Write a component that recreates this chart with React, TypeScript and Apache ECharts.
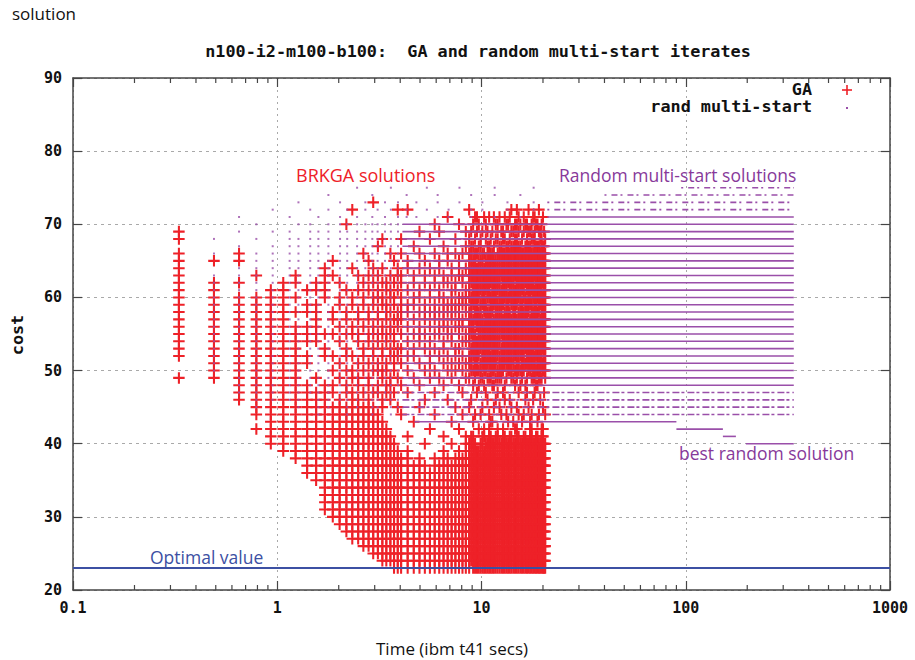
import React, { useEffect, useRef } from "react";
import * as echarts from "echarts";

// ---------- data ----------
const xTickLabels = ["0.1", "1", "10", "100", "1000"];
const xMinorTicks = [0.2, 0.3, 0.4, 0.5, 0.6, 0.7, 0.8, 0.9, 2, 3, 4, 5, 6, 7, 8, 9, 20, 30, 40, 50, 60, 70, 80, 90, 200, 300, 400, 500, 600, 700, 800, 900];
const yMin = 20;
const yMax = 90;
const yStep = 10;
const optimalCost = 23;

// GA iterates: one column per generation time, costs given as integer lists / ranges
const gaTimes = [
  0.33, 0.49, 0.65, 0.79, 0.93, 1.07, 1.23, 1.4, 1.55, 1.71,
  1.87, 2.02, 2.18, 2.33, 2.49, 2.64, 2.8, 2.95, 3.11, 3.27, 3.42, 3.58, 3.73, 3.89,
  4.04, 4.35, 4.66, 4.97, 5.28, 5.59, 5.9, 6.21, 6.52, 6.83, 7.14, 7.45, 7.76, 8.07, 8.38,
  8.7, 9.1, 9.5, 9.9, 10.3, 10.7, 11.1, 11.5, 12.0, 12.5, 13.0, 13.5, 14.0, 14.6, 15.2, 15.8, 16.4, 17.0, 17.6, 18.2, 18.8, 19.4, 20.0, 20.5,
];
const gaCosts = [
  "69,68,66-52,49",
  "65,62-49",
  "66,65,62,60-46",
  "63,60-44,42",
  "61-40",
  "62-39",
  "63,62,60,58,56-38",
  "61,59,58,56,55,54,52,51,48-36",
  "62,61,59-54,49,47-35",
  "64-60,55,53,52,48-31",
  "65,63,58,57,55,52,50,48,47,45-30",
  "62,60,59,56,54,51,49,46-29",
  "70,61,58,57,55,53,52,50,48,47,45-28",
  "72,64,60,59,56,55,52,50,49,47-27",
  "63,61,58,57,55,54,51,49,48,46-27",
  "66,62,60,59,56,53,52,50,47,45-26",
  "65,63,61,58,57,55,54,51,49,48,46-26",
  "73,64,62,60,59,56,55,53,52,50,47,45-25",
  "67,63,61,60,58,57,55,54,51,50,48,47,44-25",
  "68,64,62,60,59,56,55,53,52,50,49,46,45,43-24",
  "62,61,59,58,57,55,54,51,50,48,47,42-24",
  "66,63,61,60,58,56,55,53,52,49,48,46,41-24",
  "65,62,60,59,57,55,54,52,51,50,47,40-23",
  "72,64,63,61,58,57,56,53,52,49,45,39-23",
  "68,66,63,62,60-57,55,53,51,48,44,38-23",
  "72,65,64,61,59,58,56,54,52,50,47,41,39-23",
  "67,63,62,60,59,57,55,53,52,49,43,37-23",
  "69,66,64,61,60,58,56,55,54,51,48,45,38-23",
  "65,63,62,59,58,57,55,53,50,46,40,37-23",
  "68,64,61,60,58,56,54,52,51,49,42,36-23",
  "70,66,63,62,59-57,55,53,50,47,44,38-23",
  "69,65,64,61,60,58,56,55,52,49,37-23",
  "67,63,62,60-56,54,53,51,48,41,39-23",
  "71,66,65,62,59,58,56,55,52,50,46,38-23",
  "64,63,61,60-57,55,54,51,49,43,40,37-23",
  "68,66,62,61,59,58,56,53,52,50,45,38-23",
  "70,65,64,63,60-55,53,51,48,42,39-23",
  "66,63,62,60,59,57,56,54,52,50,47,44,38-23",
  "69,67,64,61-58,55,54,51,49,41,40-23",
  "72,68,66-60,58-54,52,51,49,45,40-23",
  "70,67,65-59,57-52,50,48,43,41-23",
  "71,69,66,64-56,54-50,47,39-23",
  "68,67,65-61,59-53,51-49,44,40-23",
  "71,66,64-58,56-50,48,42,41,39-23",
  "69,67,65-60,58-51,49,46,40-23",
  "68,66-62,60-54,52-49,43,41-23",
  "71,67,65-59,57-50,48,45,40-23",
  "70,68,66-61,59-52,50,49,47,42,41-23",
  "69,67-63,61-55,53-49,44,40-23",
  "71,68,66-60,58-51,48,46,41-23",
  "70,67-62,60-55,54-50,43,40-23",
  "72,69,67,66-59,57-49,45,41-23",
  "70,68-63,61-52,50,48,42,40-23",
  "71,69,67-60,58-50,47,44,41-23",
  "68,66-61,59-52,51-49,43,40-23",
  "70,67-62,60-53,51,48,46,41-23",
  "72,69,67-58,56-50,45,40-23",
  "70,68,66-61,59-51,49,44,42,41-23",
  "71,69-63,61-54,52-49,47,40-23",
  "70,67-60,58-50,48,43,41-23",
  "69,68,66-59,57-52,51-49,46,40-23",
  "71,67-62,60-53,51,50,45,42,41-23",
  "68,66-58,57-49,44,40-23",
];
// GA generations in between (the late, densely packed part of the run)
const gaLateTimes = [8.9, 9.3, 9.7, 10.1, 10.5, 10.9, 11.3, 11.75, 12.25, 12.75, 13.25, 13.75, 14.3, 14.9, 15.5, 16.1, 16.7, 17.3, 17.9, 18.5, 19.1, 19.7, 20.25];
const gaLateCosts = [
  "69,67-62,60-55,53-50,46,41-24",
  "71,68,66-57,55-49,44,40-23",
  "70,67,65-60,58-52,50,48,42,39-23",
  "69,66-59,57-51,49,45,41-23",
  "70,68,65-61,59-50,47,40-23",
  "71,67-60,58-52,51,49,44,42,41-23",
  "69,66-58,56-50,48,43,40-23",
  "70,68,65-60,59-51,49,46,41-23",
  "71,67-61,60-54,52-49,45,40-23",
  "69,68,66-59,57-50,47,42,41-23",
  "70,67-63,62-52,51,49,44,40-23",
  "71,68,66-60,58-50,46,41-23",
  "69,67-61,60-51,49,43,40-23",
  "72,70,68-59,57-49,45,42,41-23",
  "70,67-62,61-52,50,48,40-23",
  "71,69,66-60,58-50,44,41-23",
  "70,68-61,59-51,49,47,40-23",
  "69,67-59,57-50,43,42,41-23",
  "71,68,66-60,58-49,46,40-23",
  "70,67-62,61-52,50,48,41-23",
  "72,69,67-58,56-49,44,40-23",
  "70,68-61,60-51,49,42,41-23",
  "69,67-59,58-50,47,40-23",
];

// random multi-start: early, separately visible iterate columns
const rndDotTimes = [0.49, 0.65, 0.79, 0.95, 1.15, 1.27, 1.45, 1.59, 1.78, 2.03, 2.2, 2.46, 2.7, 2.92, 3.1, 3.37, 3.6, 3.9, 4.3, 4.8, 5.4, 6.1, 6.9, 7.8, 8.9, 10.1, 11.6, 13.4, 15.5, 18.0];
const rndDotCosts = [
  "68,66,63-50",
  "71,69,67,64-47",
  "70,68,66-45",
  "72,69,67-46",
  "71,69-46",
  "73,70,68-45",
  "72,70-47",
  "71,69-44",
  "74,72,70-45",
  "73,71-46",
  "72,70-44",
  "75,71,70-45",
  "73,72,70-46",
  "74,71-44",
  "72,70-45",
  "73,71-46",
  "75,72,70-44",
  "73,71-45",
  "74,72,71",
  "73,71",
  "75,72",
  "74,73,71",
  "72,71",
  "75,73",
  "74,72,71",
  "73,72",
  "75,74,71",
  "73,72",
  "74,71",
  "75,73,72",
];
// random multi-start: later iterates merge into rows [cost, tStart, tEnd]
const rndDenseRows: [number, number, number][] = [
  [71, 21, 338], [70, 4.1, 338], [69, 4.1, 338], [68, 4.1, 338], [67, 4.1, 338], [66, 4.1, 338],
  [65, 4.1, 338], [64, 4.1, 338], [63, 4.1, 338], [62, 4.1, 338], [61, 4.1, 338], [60, 4.1, 338],
  [59, 4.1, 338], [58, 4.1, 338], [57, 4.1, 338], [56, 4.1, 338], [55, 4.1, 338], [54, 4.1, 338],
  [53, 4.1, 338], [52, 4.1, 338], [51, 4.1, 338], [50, 4.1, 338], [49, 4.1, 338], [48, 4.1, 338],
  [43, 4.7, 90], [42, 90, 152], [41, 152, 176], [40, 197, 338],
];
const rndSparseTopRows: [number, number, number][] = [
  [75, 95, 338], [74, 40, 338], [73, 21, 338], [72, 21, 338],
];
const rndSparseLowRows: [number, number, number][] = [
  [47, 4.1, 338], [46, 4.1, 338], [45, 4.1, 338], [44, 4.1, 338],
];

// ---------- helpers ----------
function expand(spec: string): number[] {
  const out: number[] = [];
  spec.split(",").forEach((part) => {
    const m = part.split("-");
    if (m.length === 2) {
      const a = Number(m[0]);
      const b = Number(m[1]);
      for (let c = Math.max(a, b); c >= Math.min(a, b); c--) out.push(c);
    } else {
      out.push(Number(part));
    }
  });
  return out;
}

const MONO = '"DejaVu Sans Mono", "Liberation Mono", monospace';
const SANS = '"Open Sans", "Noto Sans", sans-serif';
const RED = "#ee2128";
const PURPLE = "#9a4fa9";
const PURPLE_TEXT = "#87399a";
const BLUE = "#3c50a3";
const AXIS = "#454545";
const GRIDC = "#a9a9a9";
const PLUS = "path://M0,4.1H10V5.9H0ZM4.1,0H5.9V10H4.1Z";

export default function App() {
  const ref = useRef<HTMLDivElement>(null);

  useEffect(() => {
    if (!ref.current) return;
    const chart = echarts.init(ref.current, undefined, { renderer: "svg" });

    const gaData: number[][] = [];
    gaTimes.forEach((t, i) => expand(gaCosts[i]).forEach((c) => gaData.push([t, c])));
    gaLateTimes.forEach((t, i) => expand(gaLateCosts[i]).forEach((c) => gaData.push([t, c])));
    const rndDots: number[][] = [];
    rndDotTimes.forEach((t, i) => expand(rndDotCosts[i]).forEach((c) => rndDots.push([t, c])));

    const rowRender = (dash: number[] | null) => (params: any, api: any) => {
      const p0 = api.coord([api.value(0), api.value(1)]);
      const p1 = api.coord([api.value(2), api.value(1)]);
      return {
        type: "line",
        shape: { x1: p0[0], y1: p0[1], x2: p1[0], y2: p1[1] },
        style: { stroke: PURPLE, lineWidth: 1.6, lineDash: dash || undefined },
      };
    };
    const rowSeries = (name: string, rows: [number, number, number][], dash: number[] | null) => ({
      name,
      type: "custom",
      xAxisIndex: 0,
      yAxisIndex: 0,
      data: rows.map((r) => [r[1], r[0], r[2]]),
      encode: { x: [0, 2], y: 1 },
      renderItem: rowRender(dash),
      z: 3,
      silent: true,
    });

    const axisLineStyle = { color: AXIS, width: 1.5 };
    const tickStyle = { color: AXIS, width: 1.2 };
    const labelStyle = { fontFamily: MONO, fontWeight: "bold" as const, fontSize: 15, color: "#111" };

    const option: any = {
      animation: false,
      grid: { left: 73, right: 25, top: 78, bottom: 70, containLabel: false },
      xAxis: [
        {
          type: "log",
          logBase: 10,
          min: 0.1,
          max: 1000,
          position: "bottom",
          axisLine: { show: true, onZero: false, lineStyle: axisLineStyle },
          axisTick: { show: true, inside: true, length: 9, lineStyle: tickStyle },
          axisLabel: {
            ...labelStyle,
            margin: 10,
            formatter: (v: number) => xTickLabels[Math.round(Math.log10(v)) + 1] ?? String(v),
          },
          splitLine: { show: true, lineStyle: { color: GRIDC, type: [2, 4], width: 1 } },
        },
        {
          type: "log",
          logBase: 10,
          min: 0.1,
          max: 1000,
          position: "top",
          axisLine: { show: true, onZero: false, lineStyle: axisLineStyle },
          axisTick: { show: true, inside: true, length: 9, lineStyle: tickStyle },
          axisLabel: { show: false },
          splitLine: { show: false },
        },
      ],
      yAxis: [
        {
          type: "value",
          min: yMin,
          max: yMax,
          interval: yStep,
          position: "left",
          axisLine: { show: true, onZero: false, lineStyle: axisLineStyle },
          axisTick: { show: true, inside: true, length: 9, lineStyle: tickStyle },
          axisLabel: { ...labelStyle, margin: 11 },
          splitLine: { show: true, lineStyle: { color: GRIDC, type: [3, 4], width: 1 } },
        },
        {
          type: "value",
          min: yMin,
          max: yMax,
          interval: yStep,
          position: "right",
          axisLine: { show: true, onZero: false, lineStyle: axisLineStyle },
          axisTick: { show: true, inside: true, length: 9, lineStyle: tickStyle },
          axisLabel: { show: false },
          splitLine: { show: false },
        },
      ],
      series: [
        {
          name: "GA",
          type: "scatter",
          xAxisIndex: 0,
          yAxisIndex: 0,
          data: gaData,
          symbol: PLUS,
          symbolSize: 11.5,
          itemStyle: { color: RED, opacity: 1 },
          z: 2,
          silent: true,
        },
        {
          name: "rand multi-start",
          type: "scatter",
          xAxisIndex: 0,
          yAxisIndex: 0,
          data: rndDots,
          symbol: "rect",
          symbolSize: 2,
          itemStyle: { color: PURPLE },
          z: 3,
          silent: true,
        },
        rowSeries("rand rows", rndDenseRows, null),
        rowSeries("rand sparse top rows", rndSparseTopRows, [2, 5, 6, 3]),
        rowSeries("rand sparse low rows", rndSparseLowRows, [7, 2, 3, 3]),
        {
          name: "minor ticks",
          type: "custom",
          xAxisIndex: 0,
          yAxisIndex: 0,
          data: xMinorTicks.map((v) => [v, yMin]),
          encode: { x: 0, y: 1 },
          clip: false,
          silent: true,
          z: 6,
          renderItem: (params: any, api: any) => {
            const b = api.coord([api.value(0), yMin]);
            const t = api.coord([api.value(0), yMax]);
            return {
              type: "group",
              children: [
                { type: "line", shape: { x1: b[0], y1: b[1], x2: b[0], y2: b[1] - 5 }, style: { stroke: AXIS, lineWidth: 1.2 } },
                { type: "line", shape: { x1: t[0], y1: t[1], x2: t[0], y2: t[1] + 5 }, style: { stroke: AXIS, lineWidth: 1.2 } },
              ],
            };
          },
        },
        {
          name: "optimal",
          type: "scatter",
          xAxisIndex: 0,
          yAxisIndex: 0,
          data: [],
          z: 5,
          silent: true,
          markLine: {
            silent: true,
            symbol: "none",
            label: { show: false },
            lineStyle: { color: BLUE, width: 2, type: "solid" },
            data: [{ yAxis: optimalCost }],
          },
        },
      ],
      graphic: [
        { type: "text", left: 12, top: 5, style: { text: "solution", font: `17px ${SANS}`, fill: "#111" } },
        {
          type: "text", x: 478, y: 52, scaleX: 1.12,
          style: { text: "n100-i2-m100-b100:  GA and random multi-start iterates", font: `bold 15px ${MONO}`, fill: "#111", align: "center", verticalAlign: "middle" },
        },
        {
          type: "text", x: 18, y: 335, rotation: Math.PI / 2, scaleX: 1.12,
          style: { text: "cost", font: `bold 15px ${MONO}`, fill: "#111", align: "center", verticalAlign: "middle" },
        },
        {
          type: "text", x: 452, y: 648,
          style: { text: "Time (ibm t41 secs)", font: `17px ${SANS}`, fill: "#111", align: "center", verticalAlign: "middle" },
        },
        {
          type: "text", x: 812, y: 90, scaleX: 1.12,
          style: { text: "GA", font: `bold 15px ${MONO}`, fill: "#111", align: "right", verticalAlign: "middle" },
        },
        { type: "line", shape: { x1: 842, y1: 90, x2: 852, y2: 90 }, style: { stroke: RED, lineWidth: 1.6 } },
        { type: "line", shape: { x1: 847, y1: 85, x2: 847, y2: 95 }, style: { stroke: RED, lineWidth: 1.6 } },
        {
          type: "text", x: 812, y: 107, scaleX: 1.12,
          style: { text: "rand multi-start", font: `bold 15px ${MONO}`, fill: "#111", align: "right", verticalAlign: "middle" },
        },
        { type: "rect", shape: { x: 846, y: 107, width: 2, height: 2 }, style: { fill: PURPLE } },
        { type: "text", x: 296, y: 175, z: 20, style: { text: "BRKGA solutions", font: `18px ${SANS}`, fill: RED, verticalAlign: "middle" } },
        { type: "text", x: 559, y: 175, z: 20, style: { text: "Random multi-start solutions", font: `17.5px ${SANS}`, fill: PURPLE_TEXT, verticalAlign: "middle" } },
        { type: "text", x: 679, y: 453, z: 20, style: { text: "best random solution", font: `17.5px ${SANS}`, fill: PURPLE_TEXT, verticalAlign: "middle" } },
        { type: "text", x: 150, y: 557, z: 20, style: { text: "Optimal value", font: `17.5px ${SANS}`, fill: BLUE, verticalAlign: "middle" } },
      ],
    };

    chart.setOption(option);
    return () => chart.dispose();
  }, []);

  return <div ref={ref} style={{ position: "fixed", left: 0, top: 0, width: 915, height: 660, background: "#fff" }} />;
}
